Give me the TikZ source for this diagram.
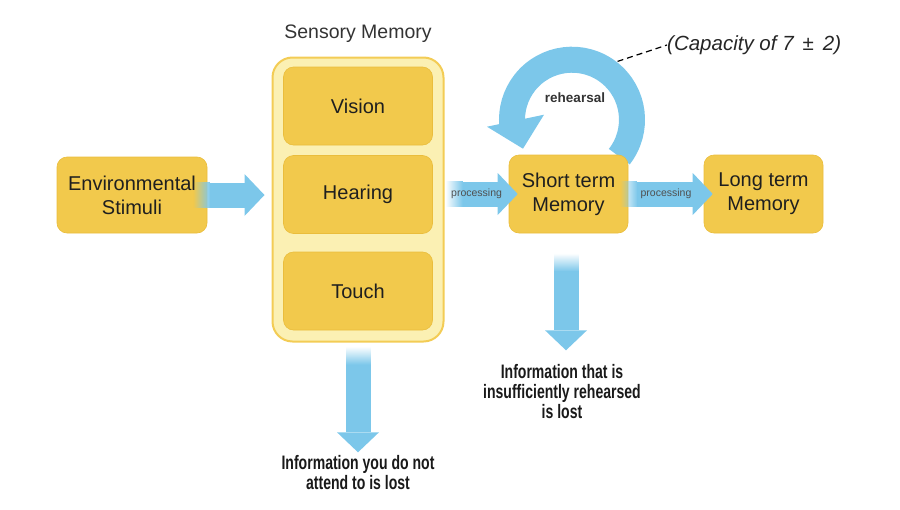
\documentclass[tikz,border=0pt]{standalone}
\usepackage{fontspec}
\setmainfont{Liberation Sans}
\newfontfamily\condfont[FakeStretch=0.72]{Liberation Sans}
\usetikzlibrary{positioning,arrows.meta,fadings,calc}
\definecolor{boxgold}{HTML}{F2C94C}
\definecolor{boxedge}{HTML}{EABD3C}
\definecolor{sensfill}{HTML}{FBF0B3}
\definecolor{sensedge}{HTML}{F3CC55}
\definecolor{flowblue}{HTML}{7CC7EA}
\definecolor{taggrey}{HTML}{505050}
\tikzfading[name=fadein, left color=transparent!100, right color=transparent!0]
\tikzfading[name=fadedown, top color=transparent!100, bottom color=transparent!0]
\pgfdeclarelayer{back}
\pgfsetlayers{back,main}
\tikzset{memblock/.style={rectangle,rounded corners=10pt,fill=boxgold,draw=boxedge,line width=0.6pt,align=center,text=black!88,font=\fontsize{20}{24}\selectfont}}
\tikzset{flow/.style={draw=flowblue,line width=25pt,-{Triangle[length=20pt,width=42pt,line width=0pt]}}}
\tikzset{flowfade/.style={fill=flowblue,path fading=fadein}}
\tikzset{flowfadedown/.style={fill=flowblue,path fading=fadedown}}
\tikzset{lostnote/.style={align=center,text=black!90,font=\condfont\bfseries\fontsize{19.5}{20}\selectfont}}
\tikzset{smalltag/.style={text=taggrey,font=\fontsize{10.5}{12}\selectfont}}

\begin{document}
\begin{tikzpicture}[x=1pt,y=-1pt]
  \useasboundingbox (0,0) rectangle (900,509);

  % memory stores
  \node[memblock,minimum width=150pt,minimum height=76pt] (env) at (132,195) {Environmental\\Stimuli};
  \node[rectangle,rounded corners=20pt,fill=sensfill,draw=sensedge,line width=2pt,minimum width=171pt,minimum height=284pt] (sens) at (358,199.5) {};
  \node[text=black!80,font=\fontsize{19.5}{23}\selectfont] (senstitle) at (358,34) {Sensory Memory};
  \foreach \name/\y/\txt in {vision/106/Vision,hearing/194.5/Hearing,touch/291/Touch}
    \node[memblock,minimum width=149pt,minimum height=78pt] (\name) at (358,\y) {\txt};
  \node[memblock,minimum width=119pt,minimum height=78pt] (stm) at (568.5,194) {Short term\\Memory};
  \node[memblock,minimum width=119pt,minimum height=78pt] (ltm) at (763.5,194) {Long term\\Memory};

  % what gets lost
  \node[lostnote] (lostsens) at (358,473) {Information you do not\\attend to is lost};
  \node[lostnote] (loststm) at (562,392) {Information that is\\insufficiently rehearsed\\is lost};

  % rehearsal loop, behind the short term store
  \coordinate (loopc) at ($(stm.north)+(3.5,-35)$);
  \begin{pgfonlayer}{back}
    \draw[draw=flowblue,line width=26pt] ([shift={(38:60)}]loopc) arc[start angle=38,end angle=-185,radius=60];
    \fill[flowblue] ($(loopc)+(-85,7)$) -- ($(loopc)+(-28,-5)$) -- ($(loopc)+(-49,29)$) -- cycle;
  \end{pgfonlayer}
  \node[text=black!80,font=\bfseries\fontsize{13.5}{15}\selectfont] (rehearse) at (575,98) {rehearsal};
  \node[anchor=west,text=black!85,font=\itshape\fontsize{20.5}{24}\selectfont,inner sep=0pt] (capacity) at (667,45) {(Capacity of 7\hspace{9pt}±\hspace{9pt}2)};
  \draw[dash pattern=on 6pt off 4pt,line width=1.2pt] ([shift={(-52:74)}]loopc) -- (capacity.west);

  % flow between stores
  \fill[flowfade] ($(env.east)+(-14,-12.5)$) rectangle ($(env.east)+(3,12.5)$);
  \draw[flow] ($(env.east)+(3,0)$) -- ($(sens.west |- env.east)+(-7,0)$);

  \fill[flowfade] ($(sens.east |- stm.west)+(1,-12.5)$) rectangle ($(sens.east |- stm.west)+(18,12.5)$);
  \draw[flow] ($(sens.east |- stm.west)+(18,0)$) -- ($(stm.west)+(9,0)$);
  \node[smalltag] (proc1) at ($(sens.east |- stm.west)!0.5!(stm.west)$) {processing};

  \fill[flowfade] ($(stm.east)+(-8,-12.5)$) rectangle ($(stm.east)+(9,12.5)$);
  \draw[flow] ($(stm.east)+(9,0)$) -- ($(ltm.west)+(9,0)$);
  \node[smalltag] (proc2) at ($(stm.east)!0.5!(ltm.west)$) {processing};

  % flow to loss
  \fill[flowfadedown] ($(sens.south)+(-12.5,4)$) rectangle ($(sens.south)+(12.5,22)$);
  \draw[flow] ($(sens.south)+(0,22)$) -- (lostsens.north);

  \fill[flowfadedown] ($(stm.south)+(-15,20)$) rectangle ($(stm.south)+(10,38)$);
  \draw[flow] ($(stm.south)+(-2.5,38)$) -- ($(loststm.north -| stm.south)+(-2.5,-11)$);

\end{tikzpicture}
\end{document}
